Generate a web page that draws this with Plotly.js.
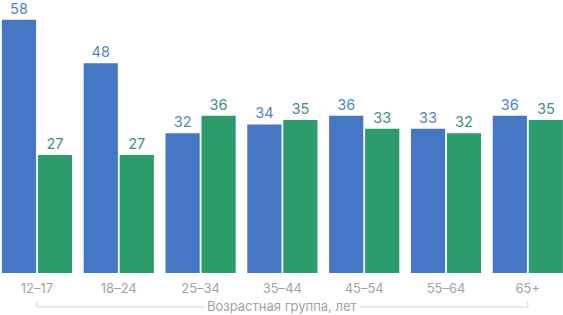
<!DOCTYPE html>
<html><head><meta charset="utf-8">
<script src="https://cdn.plot.ly/plotly-3.0.1.min.js"></script>
<style>html,body{margin:0;padding:0;background:#fff}#c{width:563px;height:315px}</style>
</head><body><div id="c"></div>
<script>
const categories = ['12–17','18–24','25–34','35–44','45–54','55–64','65+'];
const blueValues = [58,48,32,34,36,33,36];
const greenValues = [27,27,36,35,33,32,35];
const axisTitle = 'Возрастная группа, лет';

const font = 'Inter, "Noto Sans", sans-serif';
const traces = [
  {type:'bar', x:categories, y:blueValues, marker:{color:'#4677c4'},
   text:blueValues.map(String), textposition:'outside', cliponaxis:false,
   textfont:{family:font, size:14.5, color:'#4f86c3'}, hoverinfo:'none'},
  {type:'bar', x:categories, y:greenValues, marker:{color:'#2a9d6a'},
   text:greenValues.map(String), textposition:'outside', cliponaxis:false,
   textfont:{family:font, size:14.5, color:'#3b9478'}, hoverinfo:'none'}
];
const lineY = -0.125;
const layout = {
  width:563, height:315, margin:{l:0,r:0,t:1,b:42},
  paper_bgcolor:'#fff', plot_bgcolor:'#fff', showlegend:false,
  barmode:'group', bargap:0.12, bargroupgap:0.05,
  xaxis:{type:'category', range:[-0.452,6.43], showgrid:false, zeroline:false, showline:false,
         ticks:'', ticklabelstandoff:6, tickfont:{family:font, size:13, color:'#a3a3a3'}, fixedrange:true},
  yaxis:{range:[0,62.27], visible:false, fixedrange:true},
  shapes:[
    {type:'line', xref:'x', yref:'paper', x0:0, x1:6, y0:lineY, y1:lineY, line:{color:'#d6d6d6', width:1}},
    {type:'line', xref:'x', yref:'paper', x0:0, x1:0, y0:lineY, y1:lineY+0.02, line:{color:'#d6d6d6', width:1}},
    {type:'line', xref:'x', yref:'paper', x0:6, x1:6, y0:lineY, y1:lineY+0.02, line:{color:'#d6d6d6', width:1}}
  ],
  annotations:[{xref:'x', yref:'paper', x:3, y:-0.121, text:axisTitle, showarrow:false,
                bgcolor:'#fff', borderpad:2, font:{family:font, size:13, color:'#a3a3a3'}, yanchor:'middle'}]
};
Plotly.newPlot('c', traces, layout, {staticPlot:true, displayModeBar:false});
</script></body></html>
